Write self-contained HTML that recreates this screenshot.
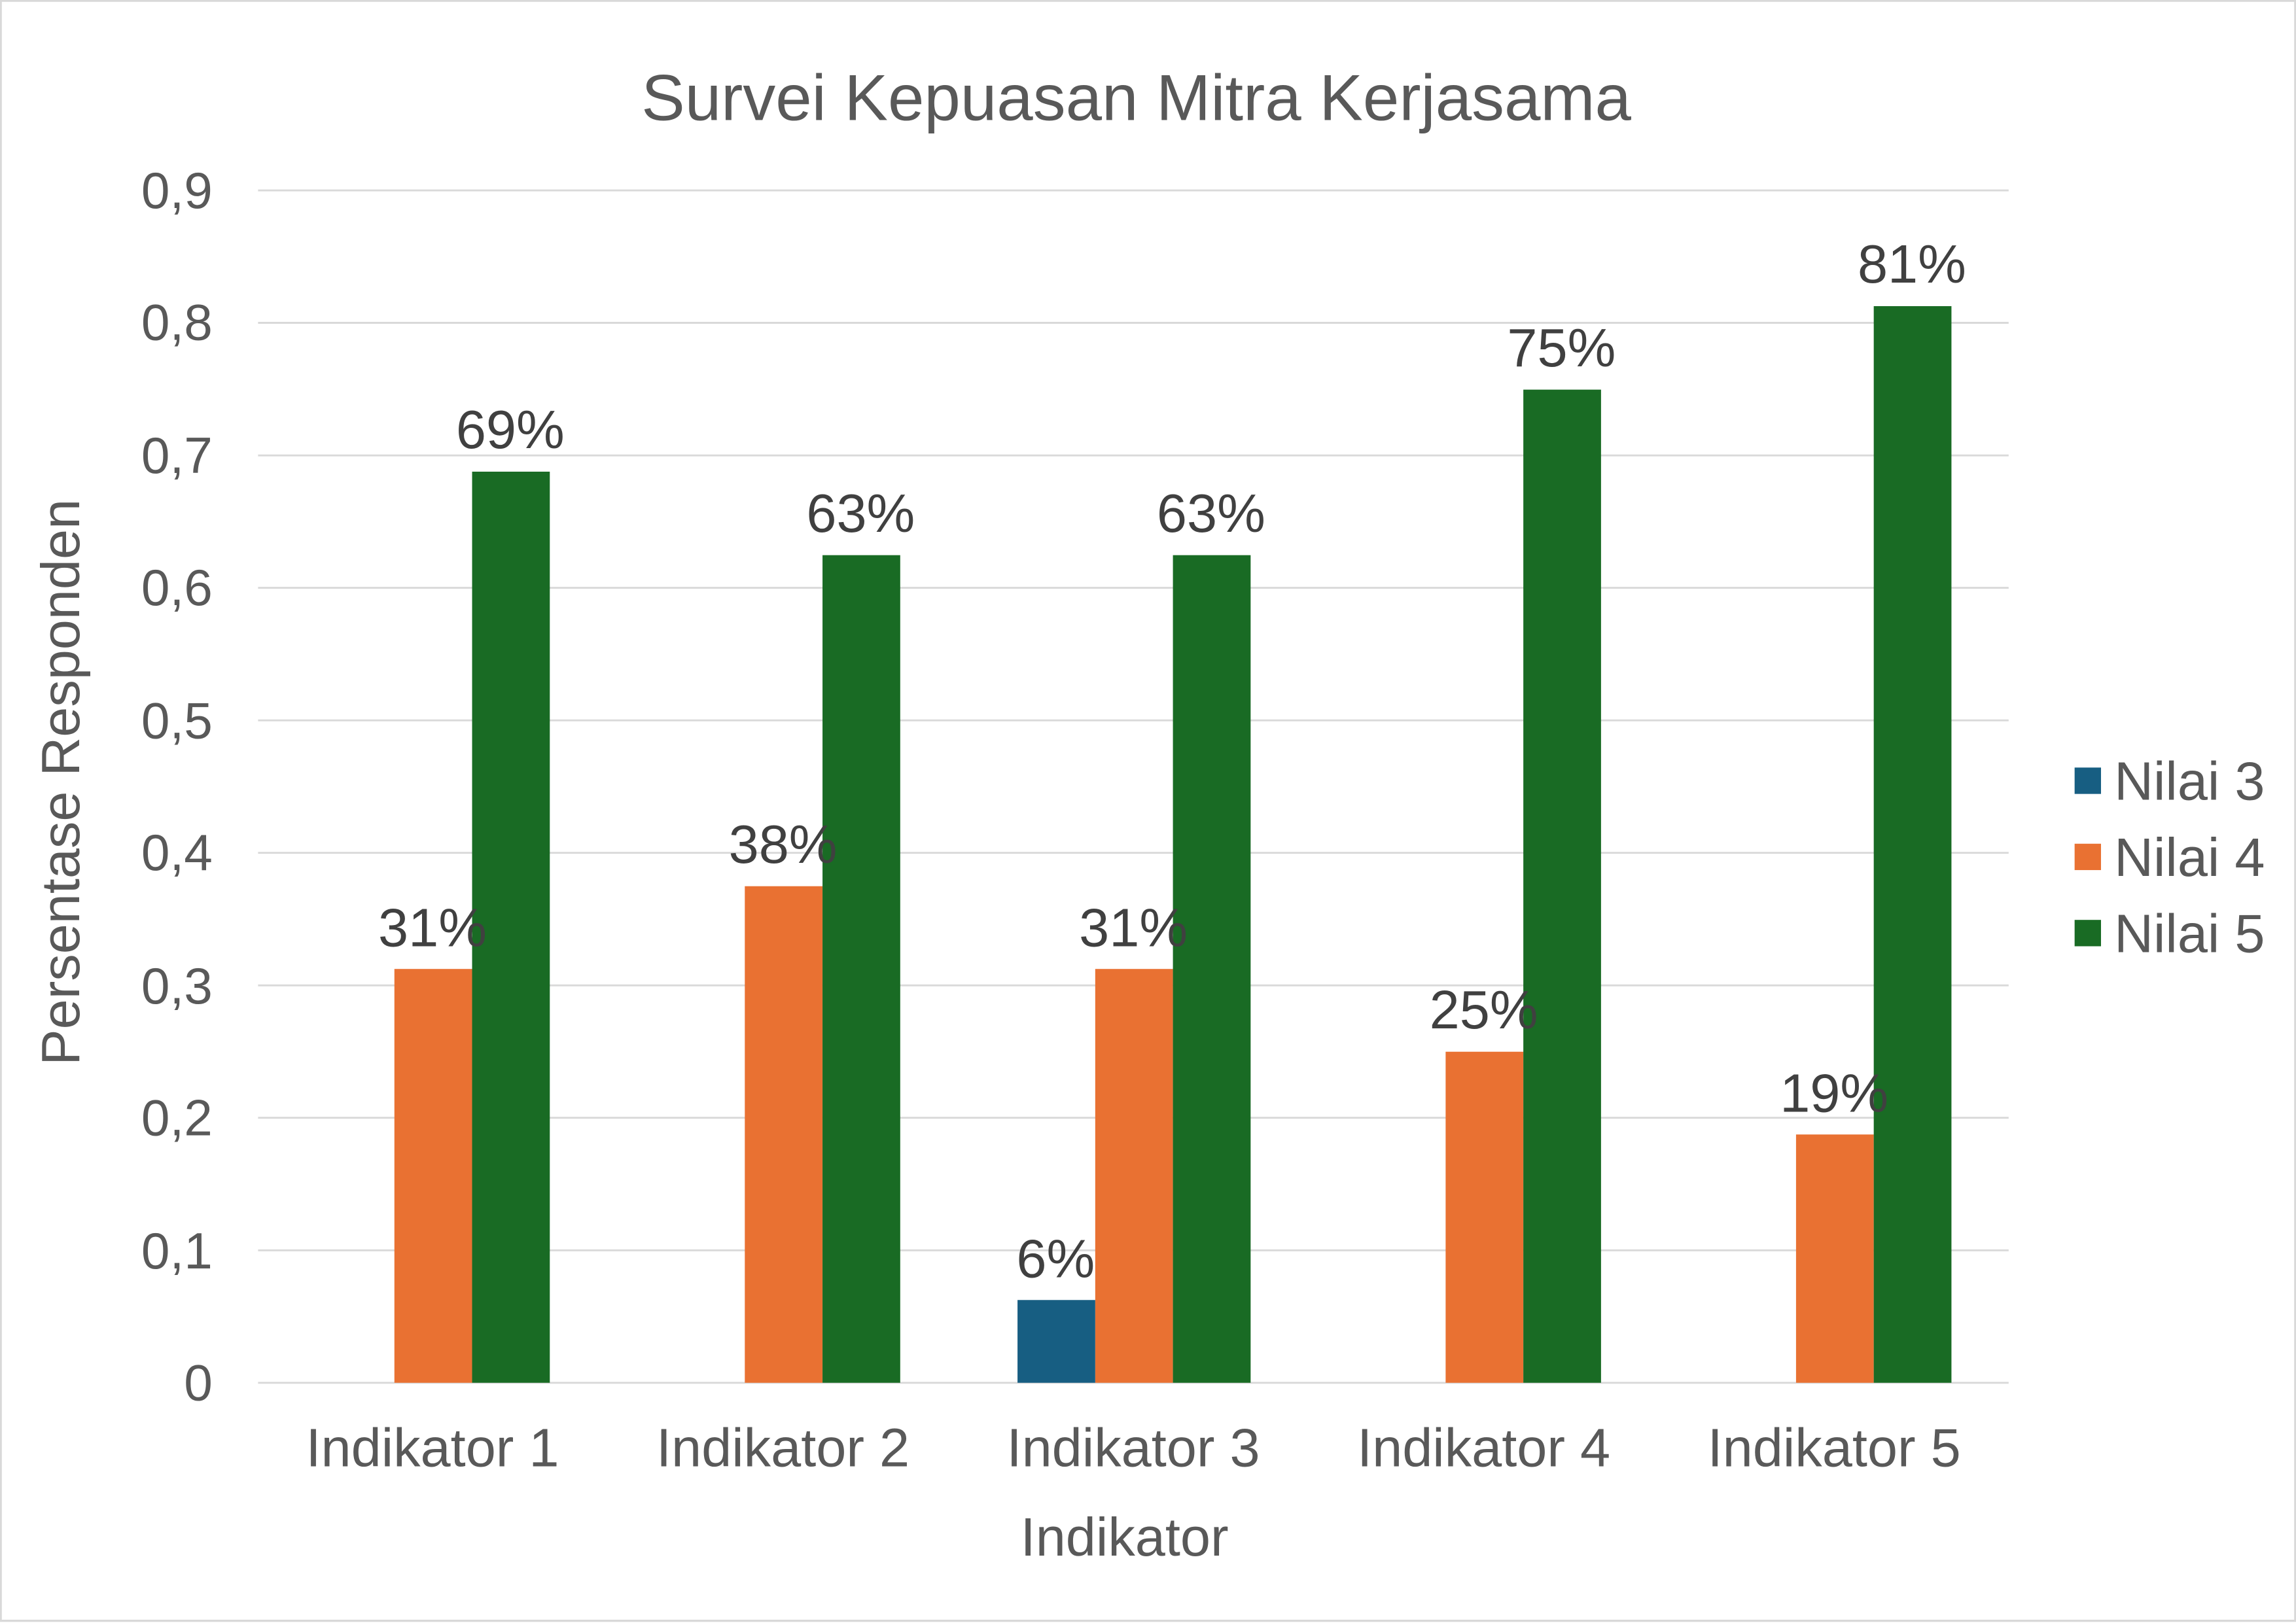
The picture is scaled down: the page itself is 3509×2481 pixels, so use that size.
<!DOCTYPE html>
<html><head><meta charset="utf-8"><style>
html,body{margin:0;padding:0;background:#fff;}
svg{display:block;}
text{font-family:"Liberation Sans",Arial,sans-serif;}
</style></head><body>
<svg width="3509" height="2481" viewBox="0 0 1566 1108" preserveAspectRatio="none" xmlns="http://www.w3.org/2000/svg">
<rect x="0.5" y="0.5" width="1565" height="1106" fill="#fff" stroke="#d9d9d9" stroke-width="1.5"/>
<text x="775" y="82" font-size="44.5" fill="#595959" text-anchor="middle">Survei Kepuasan Mitra Kerjasama</text>
<g stroke="#d9d9d9" stroke-width="1.3">
<line x1="176" x2="1370" y1="130" y2="130"/><line x1="176" x2="1370" y1="220.4" y2="220.4"/>
<line x1="176" x2="1370" y1="310.9" y2="310.9"/><line x1="176" x2="1370" y1="401.3" y2="401.3"/>
<line x1="176" x2="1370" y1="491.8" y2="491.8"/><line x1="176" x2="1370" y1="582.2" y2="582.2"/>
<line x1="176" x2="1370" y1="672.7" y2="672.7"/><line x1="176" x2="1370" y1="763.1" y2="763.1"/>
<line x1="176" x2="1370" y1="853.6" y2="853.6"/><line x1="176" x2="1370" y1="944" y2="944"/>
</g>
<g font-size="35" fill="#595959" text-anchor="end">
<text x="145" y="142">0,9</text><text x="145" y="232">0,8</text><text x="145" y="323">0,7</text>
<text x="145" y="413">0,6</text><text x="145" y="504">0,5</text><text x="145" y="594">0,4</text>
<text x="145" y="685">0,3</text><text x="145" y="775">0,2</text><text x="145" y="866">0,1</text>
<text x="145" y="956">0</text>
</g>
<text transform="translate(54,534) rotate(-90)" font-size="37" fill="#595959" text-anchor="middle">Persentase Responden</text>
<g fill="#e97132">
<rect x="269" y="661.5" width="53" height="282.5"/>
<rect x="508" y="605" width="53" height="339"/>
<rect x="747" y="661.5" width="53" height="282.5"/>
<rect x="986" y="718" width="53" height="226"/>
<rect x="1225" y="774.5" width="53" height="169.5"/>
</g>
<g fill="#196b24">
<rect x="322" y="322" width="53" height="622"/>
<rect x="561" y="379" width="53" height="565"/>
<rect x="800" y="379" width="53" height="565"/>
<rect x="1039" y="266" width="53" height="678"/>
<rect x="1278" y="209" width="53" height="735"/>
</g>
<rect x="694" y="887.5" width="53" height="56.5" fill="#175e82"/>
<g font-size="37" fill="#404040" text-anchor="middle">
<text x="295" y="646">31%</text><text x="348" y="306">69%</text>
<text x="534" y="589">38%</text><text x="587" y="363">63%</text>
<text x="720" y="872">6%</text><text x="773" y="646">31%</text><text x="826" y="363">63%</text>
<text x="1012" y="702">25%</text><text x="1065" y="250">75%</text>
<text x="1251" y="759">19%</text><text x="1304" y="193">81%</text>
</g>
<g font-size="37" fill="#595959" text-anchor="middle">
<text x="295" y="1001">Indikator 1</text><text x="534" y="1001">Indikator 2</text>
<text x="773" y="1001">Indikator 3</text><text x="1012" y="1001">Indikator 4</text>
<text x="1251" y="1001">Indikator 5</text>
<text x="767" y="1062">Indikator</text>
</g>
<rect x="1415" y="524" width="18" height="18" fill="#175e82"/>
<rect x="1415" y="576" width="18" height="18" fill="#e97132"/>
<rect x="1415" y="628" width="18" height="18" fill="#196b24"/>
<g font-size="37" fill="#595959">
<text x="1442" y="546">Nilai 3</text><text x="1442" y="598">Nilai 4</text><text x="1442" y="650">Nilai 5</text>
</g>
</svg>
</body></html>
